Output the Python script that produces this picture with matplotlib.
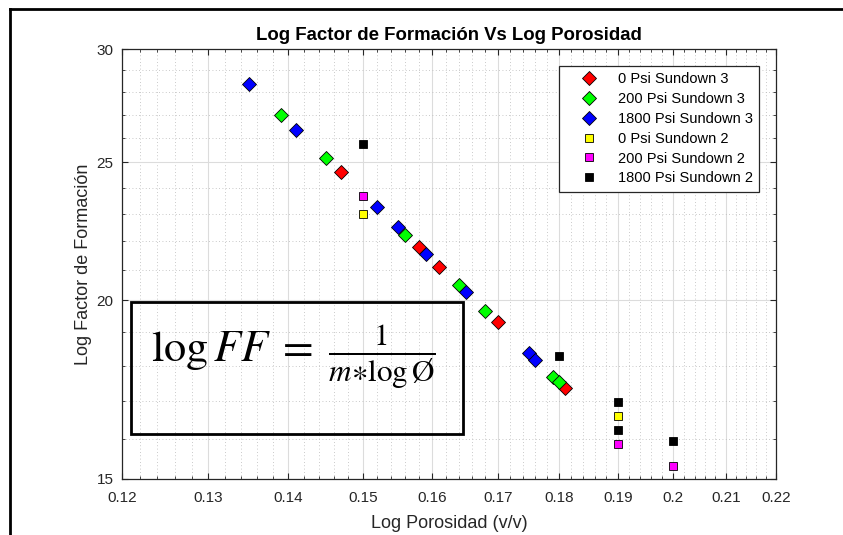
import matplotlib
matplotlib.use("Agg")
import matplotlib.pyplot as plt
from matplotlib.ticker import NullFormatter
from matplotlib.patches import Rectangle
from matplotlib.lines import Line2D

plt.rcParams["font.family"] = ["Liberation Sans", "DejaVu Sans"]
plt.rcParams["mathtext.fontset"] = "stix"

# Sundown 3 (diamonds)
por_0psi_sd3 = [0.147, 0.158, 0.161, 0.170, 0.181]
ff_0psi_sd3 = [24.6, 21.8, 21.1, 19.3, 17.36]

por_200psi_sd3 = [0.139, 0.145, 0.156, 0.164, 0.168, 0.179, 0.180]
ff_200psi_sd3 = [27.0, 25.17, 22.24, 20.49, 19.67, 17.67, 17.54]

por_1800psi_sd3 = [0.135, 0.141, 0.152, 0.155, 0.159, 0.165, 0.175, 0.176]
ff_1800psi_sd3 = [28.37, 26.35, 23.25, 22.51, 21.57, 20.26, 18.38, 18.17]

# Sundown 2 (squares)
por_0psi_sd2 = [0.15, 0.19]
ff_0psi_sd2 = [23.0, 16.59]

por_200psi_sd2 = [0.15, 0.19, 0.20]
ff_200psi_sd2 = [23.68, 15.85, 15.31]

por_1800psi_sd2 = [0.15, 0.18, 0.19, 0.19, 0.20]
ff_1800psi_sd2 = [25.74, 18.28, 16.98, 16.23, 15.94]

xticks = [0.12, 0.13, 0.14, 0.15, 0.16, 0.17, 0.18, 0.19, 0.20, 0.21, 0.22]
xtick_labels = ["0.12", "0.13", "0.14", "0.15", "0.16", "0.17", "0.18",
                "0.19", "0.2", "0.21", "0.22"]
yticks = [15, 20, 25, 30]
ytick_minor = [16, 17, 18, 19, 21, 22, 23, 24, 26, 27, 28, 29]

dark = "#262626"

fig = plt.figure(figsize=(8.43, 5.35), dpi=100)
ax = fig.add_axes([0.1447, 0.1056, 0.7758, 0.8019])

ms_d = 6.8  # diamonds
ms_s = 5.8  # squares
ax.plot(por_0psi_sd3, ff_0psi_sd3, "D", color="#ff0000", mec="black", mew=0.6,
        ms=ms_d, label="0 Psi Sundown 3", zorder=3)
ax.plot(por_200psi_sd3, ff_200psi_sd3, "D", color="#00ff00", mec="black", mew=0.6,
        ms=ms_d, label="200 Psi Sundown 3", zorder=3)
ax.plot(por_1800psi_sd3, ff_1800psi_sd3, "D", color="#0000ff", mec="black", mew=0.6,
        ms=ms_d, label="1800 Psi Sundown 3", zorder=3)
ax.plot(por_0psi_sd2, ff_0psi_sd2, "s", color="#ffff00", mec="black", mew=0.6,
        ms=ms_s, label="0 Psi Sundown 2", zorder=3)
ax.plot(por_200psi_sd2, ff_200psi_sd2, "s", color="#ff00ff", mec="black", mew=0.6,
        ms=ms_s, label="200 Psi Sundown 2", zorder=3)
ax.plot(por_1800psi_sd2, ff_1800psi_sd2, "s", color="#000000", mec="black", mew=0.6,
        ms=ms_s, label="1800 Psi Sundown 2", zorder=3)

ax.set_xscale("log")
ax.set_yscale("log")
ax.set_xlim(0.12, 0.22)
ax.set_ylim(15, 30)

# minor ticks every 0.002 on x
x_minor = [0.12 + 0.002 * i for i in range(51) if i % 5 != 0]
ax.set_xticks(xticks)
ax.set_xticklabels(xtick_labels)
ax.set_xticks(x_minor, minor=True)
ax.set_yticks(yticks)
ax.set_yticklabels([str(v) for v in yticks])
ax.set_yticks(ytick_minor, minor=True)
ax.xaxis.set_minor_formatter(NullFormatter())
ax.yaxis.set_minor_formatter(NullFormatter())

ax.tick_params(which="both", direction="in", top=True, right=True,
               color=dark, labelcolor=dark, labelsize=11)
ax.tick_params(which="major", length=4, width=0.8)
ax.tick_params(which="minor", length=2, width=0.6)
ax.tick_params(axis="x", which="major", pad=9)
ax.tick_params(axis="y", which="major", pad=6)

ax.grid(True, which="major", color="#dcdcdc", linewidth=0.8)
ax.grid(True, which="minor", color="#b8b8b8", linestyle=(0, (1, 3)), linewidth=0.6)
ax.set_axisbelow(True)

for s in ax.spines.values():
    s.set_color(dark)
    s.set_linewidth(0.9)

ax.set_title("Log Factor de Formación Vs Log Porosidad", fontsize=13.4,
             fontweight="bold", color="black", pad=7)
ax.set_xlabel("Log Porosidad (v/v)", fontsize=13, color=dark, labelpad=7)
ax.set_ylabel("Log Factor de Formación", fontsize=13, color=dark, labelpad=3)

leg = ax.legend(loc="upper right", bbox_to_anchor=(0.9745, 0.9622),
                borderaxespad=0, fontsize=10.5, frameon=True, fancybox=False,
                framealpha=1, edgecolor=dark, borderpad=0.45, labelspacing=0.4,
                handlelength=3.3, handletextpad=0.3)
leg.get_frame().set_linewidth(0.9)

# equation box
fig.add_artist(Rectangle((131 / 843, 1 - 434 / 535), 332 / 843, 132 / 535,
                         transform=fig.transFigure, fill=False,
                         edgecolor="black", linewidth=2, zorder=5))
fig.text(293 / 843, 1 - 357 / 535,
         r"$\log FF\;=\;\frac{1}{m{\ast}\log\mathrm{\O}}$",
         fontsize=32, ha="center", va="center", zorder=6)

# outer frame (left and top edges)
fig.add_artist(Line2D([10 / 843, 10 / 843], [0, 1 - 9 / 535],
                      transform=fig.transFigure, color="black", linewidth=2))
fig.add_artist(Line2D([10 / 843, 1], [1 - 9 / 535, 1 - 9 / 535],
                      transform=fig.transFigure, color="black", linewidth=2))

fig.savefig("out.png", dpi=100)
